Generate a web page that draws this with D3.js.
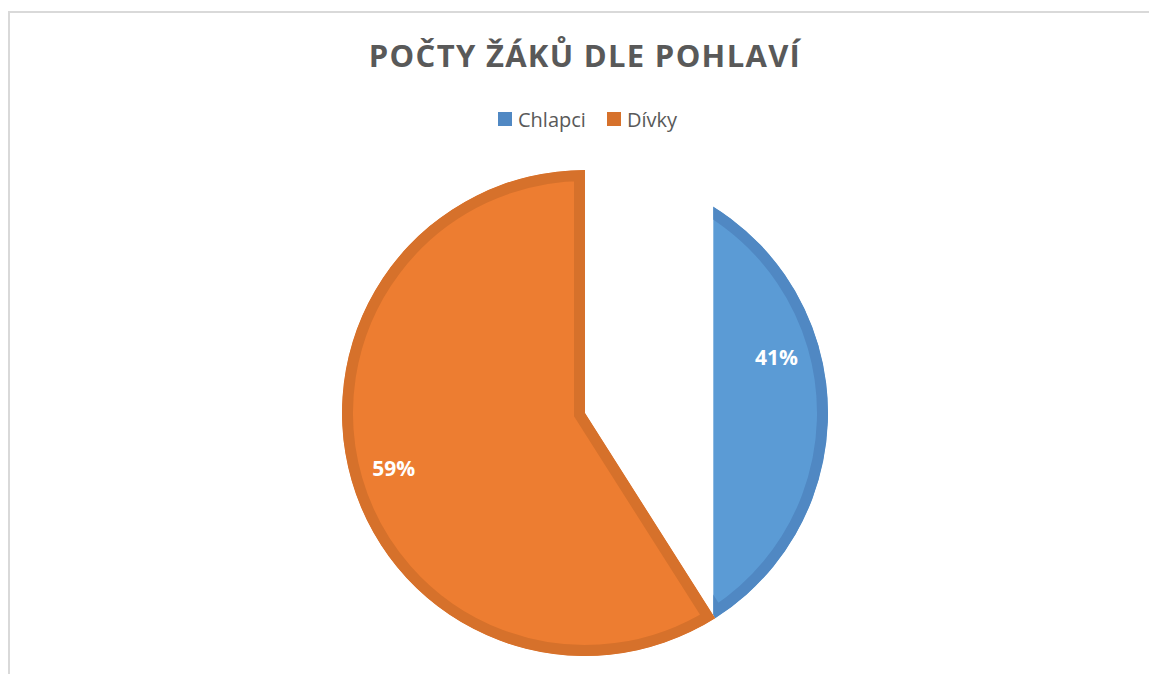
<!DOCTYPE html>
<html lang="cs">
<head>
<meta charset="UTF-8">
<title>Počty žáků dle pohlaví</title>
<script src="https://d3js.org/d3.v7.min.js"></script>
<style>
    body { margin: 0; background: #fff; }
    svg { display: block; font-family: "Open Sans", "Noto Sans", sans-serif; }
</style>
</head>
<body>
<svg id="chart"></svg>
<script>
// data
var categories = ["Chlapci", "Dívky"];
var values = [41, 59];
var labels = ["41%", "59%"];
var title = "POČTY ŽÁKŮ DLE POHLAVÍ";

var width = 1149, height = 674;
var fills = ["#5B9BD5", "#ED7D31"];
var borders = ["#5088C3", "#D6712B"];

var svg = d3.select("#chart")
    .attr("width", width)
    .attr("height", height);

// chart frame
svg.append("rect")
    .attr("x", 9).attr("y", 12)
    .attr("width", width + 20).attr("height", height + 20)
    .attr("fill", "none")
    .attr("stroke", "#D9D9D9")
    .attr("stroke-width", 2);

svg.append("text")
    .attr("x", 585)
    .attr("y", 67)
    .attr("text-anchor", "middle")
    .attr("font-size", "31px")
    .attr("font-weight", "bold")
    .attr("letter-spacing", "1.3px")
    .attr("fill", "#595959")
    .text(title);

// legend
var legendX = [498, 607];
var legend = svg.selectAll(".legend")
    .data(categories)
    .enter().append("g")
    .attr("class", "legend")
    .attr("transform", function(d, i) { return "translate(" + legendX[i] + ",112)"; });

legend.append("rect")
    .attr("width", 14).attr("height", 14)
    .attr("fill", function(d, i) { return borders[i]; });

legend.append("text")
    .attr("x", 20)
    .attr("y", 14.5)
    .attr("font-size", "20px")
    .attr("fill", "#595959")
    .text(function(d) { return d; });

// pie
var R = 243, cx = 585, cy = 413;
var pie = d3.pie().sort(null).value(function(d) { return d; });
var arc = d3.arc().innerRadius(0).outerRadius(R);
var labelArc = d3.arc().innerRadius(R * 0.82).outerRadius(R * 0.82);
var slices = pie(values);

var g = svg.append("g").attr("transform", "translate(" + cx + "," + cy + ")");
var defs = svg.append("defs");

// the blue slice only shows right of this cut (white band in the original)
defs.append("clipPath").attr("id", "cut")
    .append("rect")
    .attr("x", R * 0.528).attr("y", -R - 5)
    .attr("width", R).attr("height", 2 * R + 10);

defs.selectAll(".self")
    .data(slices)
    .enter().append("clipPath")
    .attr("id", function(d, i) { return "self" + i; })
    .append("path")
    .attr("d", arc);

var sliceG = g.selectAll(".slice")
    .data(slices)
    .enter().append("g")
    .attr("class", "slice")
    .attr("clip-path", function(d, i) { return i === 0 ? "url(#cut)" : null; });

// border drawn inside the slice
sliceG.append("path")
    .attr("d", arc)
    .attr("fill", function(d, i) { return fills[i]; })
    .attr("stroke", function(d, i) { return borders[i]; })
    .attr("stroke-width", 22)
    .attr("stroke-linejoin", "miter")
    .attr("clip-path", function(d, i) { return "url(#self" + i + ")"; });

g.selectAll(".lbl")
    .data(slices)
    .enter().append("text")
    .attr("class", "lbl")
    .attr("transform", function(d) { return "translate(" + labelArc.centroid(d) + ")"; })
    .attr("text-anchor", "middle")
    .attr("dy", "0.35em")
    .attr("font-size", "21px")
    .attr("font-weight", "bold")
    .attr("fill", "#fff")
    .text(function(d, i) { return labels[i]; });
</script>
</body>
</html>
